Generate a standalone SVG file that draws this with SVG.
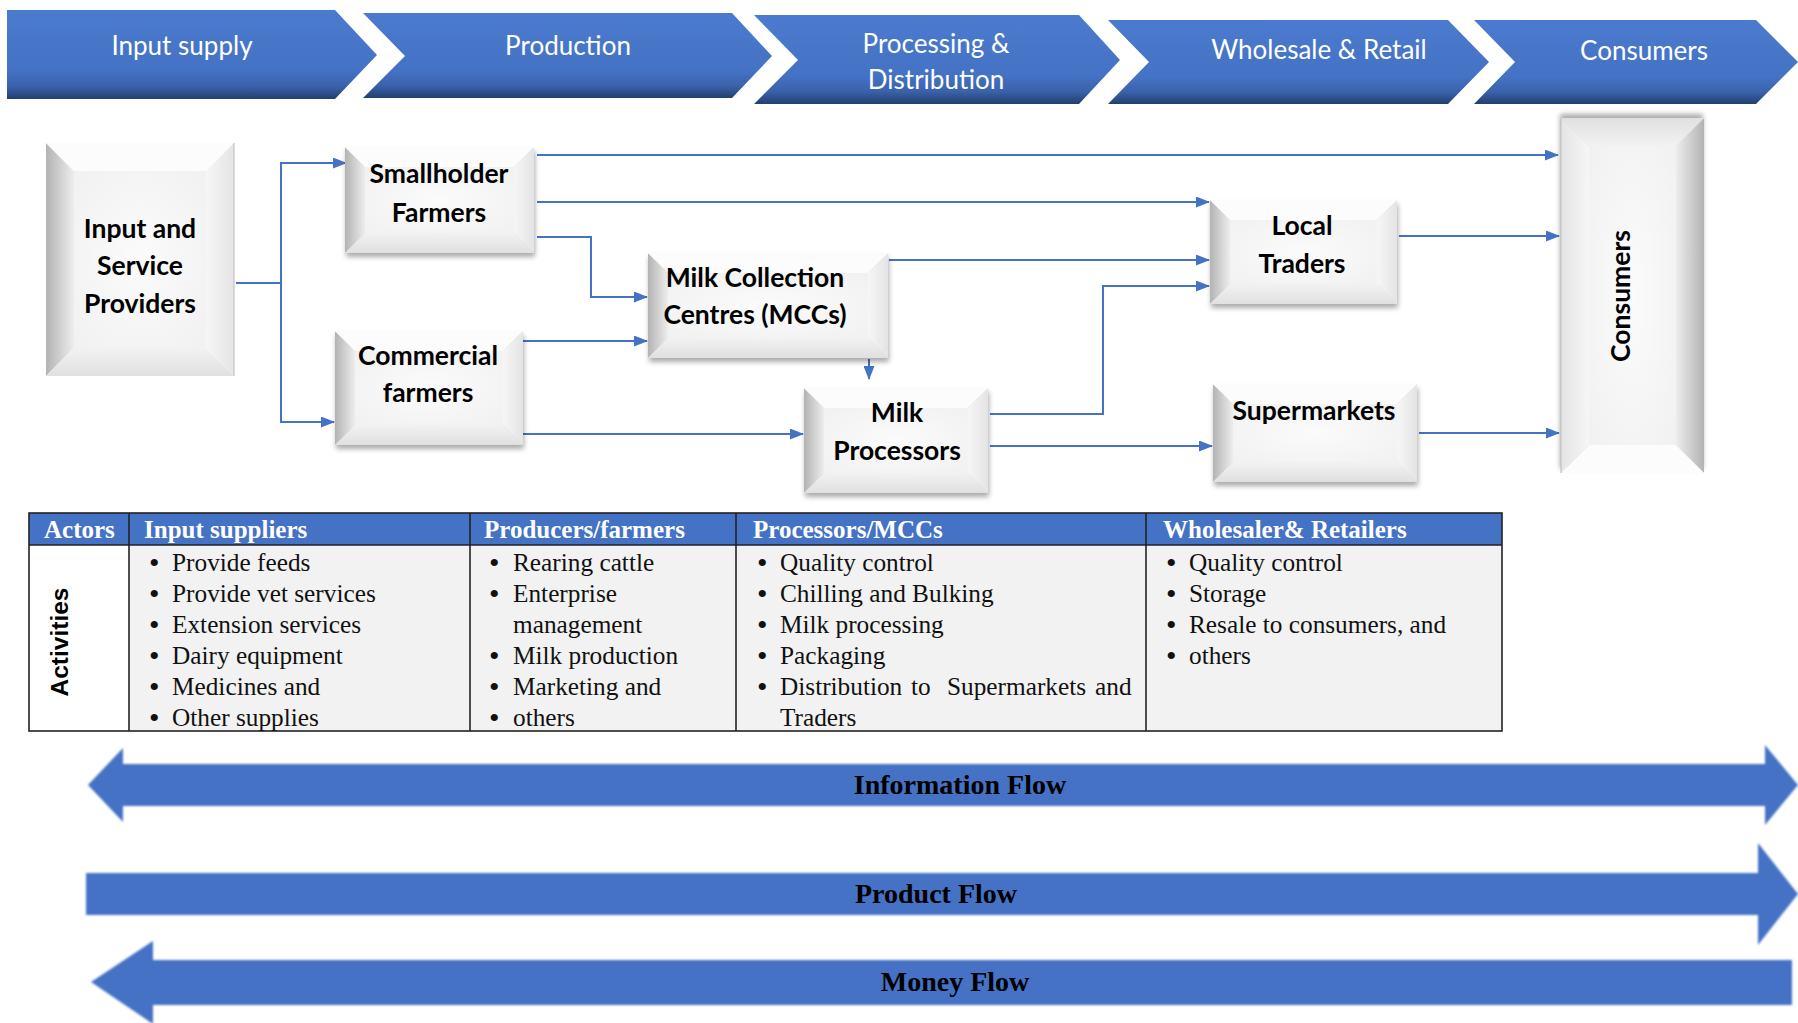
<svg xmlns="http://www.w3.org/2000/svg" width="1798" height="1023" viewBox="0 0 1798 1023">
<defs>
<style>
.chev{fill:url(#chevGrad);}
.chevtxt{font-family:Lato,"Open Sans",sans-serif;font-size:26px;fill:#fff;text-anchor:middle;}
.ntxt{font-family:Lato,"Open Sans",sans-serif;font-weight:700;font-size:26.5px;fill:#000;text-anchor:middle;}
.conn{fill:none;stroke:#4472C4;stroke-width:2;}
.arr{marker-end:url(#ah);}
.fL{fill:url(#gL);} .fT{fill:#fcfcfc;} .fR{fill:url(#gR);} .fB{fill:url(#gB);} .fI{fill:url(#gI);}
.edge{fill:none;stroke:#c4c4c4;stroke-width:1.2;}
.th{font-family:"Liberation Serif","Times New Roman",serif;font-weight:700;font-size:25px;fill:#fff;}
.td{font-family:"Liberation Serif","Times New Roman",serif;font-size:25.3px;fill:#111;}
.bl{font-size:30px;}
.grid{fill:none;stroke:#222;stroke-width:1.6;}
.flow{fill:#4472C4;filter:url(#soft);}
.flowtxt{font-family:"Liberation Serif","Times New Roman",serif;font-weight:700;font-size:28px;fill:#000;text-anchor:middle;}
.act{font-family:"Liberation Sans",Arial,sans-serif;font-weight:700;font-size:24.5px;fill:#000;text-anchor:middle;}
</style>
<linearGradient id="chevGrad" x1="0" y1="0" x2="0" y2="1">
<stop offset="0" stop-color="#4b7bcf"/>
<stop offset="0.68" stop-color="#4472C4"/>
<stop offset="0.86" stop-color="#3a62aa"/>
<stop offset="1" stop-color="#223f6e"/>
</linearGradient>
<linearGradient id="gL" x1="0" y1="0" x2="1" y2="0">
<stop offset="0" stop-color="#b3b3b3"/>
<stop offset="1" stop-color="#ededed"/>
</linearGradient>
<linearGradient id="gR" x1="0" y1="0" x2="1" y2="0">
<stop offset="0" stop-color="#f6f6f6"/>
<stop offset="1" stop-color="#e4e4e4"/>
</linearGradient>
<linearGradient id="gB" x1="0" y1="0" x2="0" y2="1">
<stop offset="0" stop-color="#f2f2f2"/>
<stop offset="1" stop-color="#e0e0e0"/>
</linearGradient>
<radialGradient id="gI" cx="0.5" cy="0.5" r="0.7">
<stop offset="0" stop-color="#fbfbfb"/>
<stop offset="1" stop-color="#f1f1f1"/>
</radialGradient>
<filter id="sh" x="-10%" y="-15%" width="125%" height="140%">
<feDropShadow dx="1" dy="4" stdDeviation="2.5" flood-color="#000" flood-opacity="0.33"/>
</filter>
<filter id="soft" x="-2%" y="-20%" width="104%" height="140%">
<feGaussianBlur stdDeviation="1.3"/>
</filter>
<marker id="ah" viewBox="0 0 14 11" refX="13" refY="5.5" markerWidth="14" markerHeight="11" markerUnits="userSpaceOnUse" orient="auto">
<path d="M0,0 L14,5.5 L0,11 z" fill="#4472C4"/>
</marker>
</defs>

<rect width="1798" height="1023" fill="#fff"/>

<!-- Stage chevrons -->
<g id="stage-input-supply">
<polygon class="chev" points="7,10 335,10 377,55 335,99 7,99"/>
<text class="chevtxt" x="182" y="55">Input supply</text>
</g>
<g id="stage-production">
<polygon class="chev" points="363,13 732,13 772,56 732,98 363,98 405,56"/>
<text class="chevtxt" x="568" y="55">Production</text>
</g>
<g id="stage-processing">
<polygon class="chev" points="754,15 1079,15 1120,60 1079,104 754,104 798,60"/>
<text class="chevtxt" x="936" y="53">Processing &amp;</text>
<text class="chevtxt" x="936" y="89">Distribution</text>
</g>
<g id="stage-wholesale">
<polygon class="chev" points="1108,20 1448,20 1489,62 1448,104 1108,104 1149,62"/>
<text class="chevtxt" x="1319" y="59">Wholesale &amp; Retail</text>
</g>
<g id="stage-consumers">
<polygon class="chev" points="1474,20 1756,20 1798,62 1756,104 1474,104 1515,62"/>
<text class="chevtxt" x="1644" y="60">Consumers</text>
</g>

<!-- Connectors -->
<g id="connectors">
<path class="conn" d="M236,283 H281"/>
<path class="conn arr" d="M281,283 V163 H346"/>
<path class="conn arr" d="M281,283 V422 H334"/>
<path class="conn arr" d="M537,155 H1558"/>
<path class="conn arr" d="M537,202 H1209"/>
<path class="conn arr" d="M537,237 H591 V297 H647"/>
<path class="conn arr" d="M523,341 H647"/>
<path class="conn arr" d="M523,434 H803"/>
<path class="conn arr" d="M889,260 H1209"/>
<path class="conn arr" d="M869,359 V379"/>
<path class="conn arr" d="M990,414 H1103 V286 H1209"/>
<path class="conn arr" d="M990,446 H1212"/>
<path class="conn arr" d="M1399,236 H1559"/>
<path class="conn arr" d="M1419,433 H1559"/>
</g>

<!-- Nodes -->
<g id="node-input-service">
<polygon class="fL" points="46,143 74,171 74,348 46,376"/>
<polygon class="fT" points="46,143 234,143 206,171 74,171"/>
<polygon class="fR" points="234,143 234,376 206,348 206,171"/>
<polygon class="fB" points="46,376 234,376 206,348 74,348"/>
<rect class="fI" x="74" y="171" width="132" height="177"/>
<line class="edge" x1="234" y1="143" x2="234" y2="376"/>
<text class="ntxt" x="140" y="238">Input and</text>
<text class="ntxt" x="140" y="275">Service</text>
<text class="ntxt" x="140" y="313">Providers</text>
</g>

<g id="node-smallholder">
<g filter="url(#sh)">
<polygon class="fL" points="345,147 365,167 365,233 345,253"/>
<polygon class="fT" points="345,147 534,147 514,167 365,167"/>
<polygon class="fR" points="534,147 534,253 514,233 514,167"/>
<polygon class="fB" points="345,253 534,253 514,233 365,233"/>
<rect class="fI" x="365" y="167" width="149" height="66"/>
</g>
<text class="ntxt" x="439" y="183">Smallholder</text>
<text class="ntxt" x="439" y="222">Farmers</text>
</g>

<g id="node-commercial">
<g filter="url(#sh)">
<polygon class="fL" points="335,331 355,351 355,425 335,445"/>
<polygon class="fT" points="335,331 523,331 503,351 355,351"/>
<polygon class="fR" points="523,331 523,445 503,425 503,351"/>
<polygon class="fB" points="335,445 523,445 503,425 355,425"/>
<rect class="fI" x="355" y="351" width="148" height="74"/>
</g>
<text class="ntxt" x="428" y="365">Commercial</text>
<text class="ntxt" x="428" y="402">farmers</text>
</g>

<g id="node-mcc">
<g filter="url(#sh)">
<polygon class="fL" points="648,253 668,273 668,338 648,358"/>
<polygon class="fT" points="648,253 888,253 868,273 668,273"/>
<polygon class="fR" points="888,253 888,358 868,338 868,273"/>
<polygon class="fB" points="648,358 888,358 868,338 668,338"/>
<rect class="fI" x="668" y="273" width="200" height="65"/>
</g>
<text class="ntxt" x="755" y="287">Milk Collection</text>
<text class="ntxt" x="755" y="324">Centres (MCCs)</text>
</g>

<g id="node-processors">
<g filter="url(#sh)">
<polygon class="fL" points="804,388 824,408 824,473 804,493"/>
<polygon class="fT" points="804,388 988,388 968,408 824,408"/>
<polygon class="fR" points="988,388 988,493 968,473 968,408"/>
<polygon class="fB" points="804,493 988,493 968,473 824,473"/>
<rect class="fI" x="824" y="408" width="144" height="65"/>
</g>
<text class="ntxt" x="897" y="422">Milk</text>
<text class="ntxt" x="897" y="460">Processors</text>
</g>

<g id="node-local-traders">
<g filter="url(#sh)">
<polygon class="fL" points="1210,200 1230,220 1230,284 1210,304"/>
<polygon class="fT" points="1210,200 1397,200 1377,220 1230,220"/>
<polygon class="fR" points="1397,200 1397,304 1377,284 1377,220"/>
<polygon class="fB" points="1210,304 1397,304 1377,284 1230,284"/>
<rect class="fI" x="1230" y="220" width="147" height="64"/>
</g>
<text class="ntxt" x="1302" y="235">Local</text>
<text class="ntxt" x="1302" y="273">Traders</text>
</g>

<g id="node-supermarkets">
<g filter="url(#sh)">
<polygon class="fL" points="1213,384 1233,404 1233,462 1213,482"/>
<polygon class="fT" points="1213,384 1417,384 1397,404 1233,404"/>
<polygon class="fR" points="1417,384 1417,482 1397,462 1397,404"/>
<polygon class="fB" points="1213,482 1417,482 1397,462 1233,462"/>
<rect class="fI" x="1233" y="404" width="164" height="58"/>
</g>
<text class="ntxt" x="1314" y="420">Supermarkets</text>
</g>

<g id="node-consumers">
<g transform="rotate(180 1632.5 295.5)">
<g filter="url(#sh)">
<polygon class="fL" points="1561,118 1589,146 1589,445 1561,473"/>
<polygon class="fT" points="1561,118 1704,118 1676,146 1589,146"/>
<polygon class="fR" points="1704,118 1704,473 1676,445 1676,146"/>
<polygon class="fB" points="1561,473 1704,473 1676,445 1589,445"/>
<rect class="fI" x="1589" y="146" width="87" height="299"/>
</g>
<line class="edge" x1="1704" y1="118" x2="1704" y2="473"/>
</g>
<text class="ntxt" transform="translate(1630,296) rotate(-90)" x="0" y="0">Consumers</text>
</g>

<!-- Table -->
<g id="table">
<rect x="29" y="513" width="1473" height="32" fill="#4472C4"/>
<rect x="29" y="545" width="100" height="186" fill="#fff"/>
<rect x="129" y="545" width="1373" height="186" fill="#f2f2f2"/>
<rect class="grid" x="29" y="513" width="1473" height="218"/>
<line class="grid" x1="29" y1="545" x2="1502" y2="545"/>
<line class="grid" x1="129" y1="513" x2="129" y2="731"/>
<line class="grid" x1="470" y1="513" x2="470" y2="731"/>
<line class="grid" x1="736" y1="513" x2="736" y2="731"/>
<line class="grid" x1="1146" y1="513" x2="1146" y2="731"/>

<text class="th" x="44" y="538">Actors</text>
<text class="th" x="144" y="538">Input suppliers</text>
<text class="th" x="484" y="538">Producers/farmers</text>
<text class="th" x="753" y="538">Processors/MCCs</text>
<text class="th" x="1163" y="538">Wholesaler&amp; Retailers</text>

<text class="act" transform="translate(68,642) rotate(-90)" x="0" y="0">Activities</text>

<g class="td">
<text class="bl" x="149" y="573">•</text><text x="172" y="571">Provide feeds</text>
<text class="bl" x="149" y="604">•</text><text x="172" y="602">Provide vet services</text>
<text class="bl" x="149" y="635">•</text><text x="172" y="633">Extension services</text>
<text class="bl" x="149" y="666">•</text><text x="172" y="664">Dairy equipment</text>
<text class="bl" x="149" y="697">•</text><text x="172" y="695">Medicines and</text>
<text class="bl" x="149" y="728">•</text><text x="172" y="726">Other supplies</text>

<text class="bl" x="489" y="573">•</text><text x="513" y="571">Rearing cattle</text>
<text class="bl" x="489" y="604">•</text><text x="513" y="602">Enterprise</text>
<text x="513" y="633">management</text>
<text class="bl" x="489" y="666">•</text><text x="513" y="664">Milk production</text>
<text class="bl" x="489" y="697">•</text><text x="513" y="695">Marketing and</text>
<text class="bl" x="489" y="728">•</text><text x="513" y="726">others</text>

<text class="bl" x="757" y="573">•</text><text x="780" y="571">Quality control</text>
<text class="bl" x="757" y="604">•</text><text x="780" y="602">Chilling and Bulking</text>
<text class="bl" x="757" y="635">•</text><text x="780" y="633">Milk processing</text>
<text class="bl" x="757" y="666">•</text><text x="780" y="664">Packaging</text>
<text class="bl" x="757" y="697">•</text><text y="695"><tspan x="780">Distribution</tspan><tspan x="911">to</tspan><tspan x="947">Supermarkets</tspan><tspan x="1095">and</tspan></text>
<text x="780" y="726">Traders</text>

<text class="bl" x="1166" y="573">•</text><text x="1189" y="571">Quality control</text>
<text class="bl" x="1166" y="604">•</text><text x="1189" y="602">Storage</text>
<text class="bl" x="1166" y="635">•</text><text x="1189" y="633">Resale to consumers, and</text>
<text class="bl" x="1166" y="666">•</text><text x="1189" y="664">others</text>
</g>
</g>

<!-- Flow arrows -->
<g id="information-flow">
<path class="flow" d="M88,785 L123,748 L123,764 L1765,764 L1765,745 L1798,785 L1765,825 L1765,806 L123,806 L123,822 Z"/>
<text class="flowtxt" x="960" y="794">Information Flow</text>
</g>
<g id="product-flow">
<path class="flow" d="M86,873 L1758,873 L1758,843 L1798,894 L1758,945 L1758,915 L86,915 Z"/>
<text class="flowtxt" x="936" y="903">Product Flow</text>
</g>
<g id="money-flow">
<path class="flow" d="M91,982 L153,941 L153,960 L1792,960 L1792,1005 L153,1005 L153,1024 Z"/>
<text class="flowtxt" x="955" y="991">Money Flow</text>
</g>
</svg>
